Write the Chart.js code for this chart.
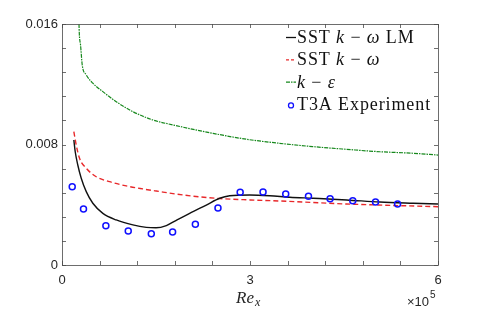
<!DOCTYPE html>
<html>
<head>
<meta charset="utf-8">
<script src="https://cdn.jsdelivr.net/npm/chart.js@4.4.0/dist/chart.umd.min.js"></script>
<style>
  html, body { margin: 0; padding: 0; background: #fff; }
  #wrap { width: 485px; height: 310px; }
</style>
</head>
<body>
<div id="wrap"><canvas id="chart" width="485" height="310"></canvas></div>
<script>
// SST k-omega LM
const lmRe = [18900, 21100, 25200, 30700, 38700, 49200, 65200, 86600, 113100, 134500, 150000, 166500, 182400, 203700, 230300, 251600, 267600, 299500, 331500, 363400, 400600, 454000, 507200, 560400, 600000];
const lmCf = [0.0083, 0.00752, 0.00664, 0.00576, 0.00487, 0.0041, 0.00343, 0.00299, 0.00266, 0.0025, 0.00247, 0.00262, 0.00297, 0.00343, 0.00398, 0.00443, 0.0046, 0.00465, 0.0046, 0.0045, 0.00443, 0.00432, 0.00418, 0.0041, 0.00405];

// SST k-omega
const sstRe = [18900, 22700, 28000, 38700, 54600, 75900, 102500, 129000, 150500, 193000, 246000, 300000, 347000, 454000, 600000];
const sstCf = [0.00885, 0.00797, 0.00708, 0.00642, 0.00586, 0.00553, 0.00525, 0.00505, 0.00491, 0.00465, 0.00443, 0.00432, 0.00425, 0.00405, 0.00387];

// k-epsilon
const keRe = [26800, 27000, 29600, 32300, 38700, 49200, 65200, 86600, 113100, 145000, 177000, 241000, 294000, 347000, 400000, 454000, 507000, 560000, 600000];
const keCf = [0.0170, 0.0162, 0.0146, 0.01328, 0.01262, 0.01207, 0.01151, 0.01084, 0.01018, 0.00963, 0.0093, 0.00874, 0.00835, 0.00808, 0.00786, 0.00768, 0.00752, 0.00742, 0.0073];

// T3A experiment
const expRe = [16300, 34300, 70000, 105700, 142500, 176500, 212800, 248900, 284300, 320800, 357000, 393300, 427800, 464000, 500300, 535500];
const expCf = [0.0052, 0.00372, 0.00261, 0.00226, 0.00208, 0.00219, 0.0027, 0.00378, 0.00483, 0.00485, 0.00471, 0.00456, 0.0044, 0.00427, 0.00418, 0.00405];

// axes
const xMajor = [0, 300000, 600000];
const xTickLabels = ['0', '3', '6'];
const yMajor = [0, 0.008, 0.016];
const yTickLabels = ['0', '0.008', '0.016'];
const xMinorStep = 60000;
const yMinorStep = 0.0016;

// legend texts: [text, italic]
const legendLabels = [
  [['SST ', false], ['k', true], [' − ', false], ['ω', true], [' LM', false]],
  [['SST ', false], ['k', true], [' − ', false], ['ω', true]],
  [['k', true], [' − ', false], ['ε', true]],
  [['T3A Experiment', false]],
];

const toPts = (xs, ys) => xs.map((x, i) => ({ x: x, y: ys[i] }));

const colors = {
  lm: '#111111',
  sst: '#e8282a',
  ke: '#16881c',
  exp: '#1010ff',
};

const serif = '"Liberation Serif", "Times New Roman", serif';
const sans = '"Liberation Sans", Arial, Helvetica, sans-serif';

const decorPlugin = {
  id: 'decor',
  afterDraw(chart) {
    const ctx = chart.ctx;
    const a = chart.chartArea;
    const xs = chart.scales.x, ys = chart.scales.y;
    ctx.save();

    // box + inward ticks
    ctx.strokeStyle = '#4a4a4a';
    ctx.lineWidth = 0.8;
    ctx.strokeRect(a.left + 0.5, a.top + 0.5, a.right - a.left, a.bottom - a.top);
    ctx.beginPath();
    for (let v = xs.min; v <= xs.max + 1; v += xMinorStep) {
      const p = Math.round(xs.getPixelForValue(v)) + 0.5;
      ctx.moveTo(p, a.bottom); ctx.lineTo(p, a.bottom - 4);
      ctx.moveTo(p, a.top); ctx.lineTo(p, a.top + 4);
    }
    for (let v = ys.min; v <= ys.max + 1e-9; v += yMinorStep) {
      const p = Math.round(ys.getPixelForValue(v)) + 0.5;
      ctx.moveTo(a.left, p); ctx.lineTo(a.left + 4, p);
      ctx.moveTo(a.right, p); ctx.lineTo(a.right - 4, p);
    }
    ctx.stroke();

    // x axis title Re_x
    ctx.fillStyle = '#262626';
    ctx.textBaseline = 'alphabetic';
    ctx.textAlign = 'left';
    ctx.font = 'italic 17px ' + serif;
    const cx = (a.left + a.right) / 2;
    ctx.fillText('Re', cx - 14, 303);
    const wRe = ctx.measureText('Re').width;
    ctx.font = 'italic 12px ' + serif;
    ctx.fillText('x', cx - 14 + wRe + 1, 306);

    // exponent
    ctx.font = '13px ' + sans;
    ctx.textAlign = 'right';
    ctx.fillText('×10', a.right - 9, 306);
    ctx.font = '10px ' + sans;
    ctx.textAlign = 'left';
    ctx.fillText('5', a.right - 8, 298);

    // legend
    const lx = 286, ly0 = 43, dy = 22.3;
    legendLabels.forEach((segs, i) => {
      const by = ly0 + i * dy;
      const my = by - 5.5;
      ctx.setLineDash([]);
      if (i === 0) {
        ctx.strokeStyle = colors.lm; ctx.lineWidth = 1.3;
        ctx.beginPath(); ctx.moveTo(lx, my); ctx.lineTo(lx + 10, my); ctx.stroke();
      } else if (i === 1) {
        ctx.strokeStyle = colors.sst; ctx.lineWidth = 1.3; ctx.setLineDash([3, 2]);
        ctx.beginPath(); ctx.moveTo(lx, my); ctx.lineTo(lx + 10, my); ctx.stroke();
      } else if (i === 2) {
        ctx.strokeStyle = colors.ke; ctx.lineWidth = 1.1; ctx.setLineDash([4, 1, 1.5, 1]);
        ctx.beginPath(); ctx.moveTo(lx, my); ctx.lineTo(lx + 10, my); ctx.stroke();
      } else {
        ctx.strokeStyle = colors.exp; ctx.lineWidth = 1.3;
        ctx.beginPath(); ctx.arc(lx + 5, my + 1, 2.5, 0, Math.PI * 2); ctx.stroke();
      }
      ctx.setLineDash([]);
      let tx = lx + 11;
      ctx.fillStyle = '#111';
      ctx.textAlign = 'left';
      ctx.letterSpacing = '0.9px';
      segs.forEach(([t, it]) => {
        ctx.font = (it ? 'italic ' : '') + '18px ' + serif;
        ctx.fillText(t, tx, by);
        tx += ctx.measureText(t).width;
      });
      ctx.letterSpacing = '0px';
    });
    ctx.restore();
  }
};

new Chart(document.getElementById('chart'), {
  type: 'scatter',
  data: {
    datasets: [
      {
        label: 'T3A Experiment',
        data: toPts(expRe, expCf),
        showLine: false,
        pointStyle: 'circle',
        pointRadius: 3,
        pointBorderWidth: 1.5,
        pointBorderColor: colors.exp,
        pointBackgroundColor: 'rgba(0,0,0,0)',
        order: 0,
      },
      {
        label: 'SST k-w LM',
        data: toPts(lmRe, lmCf),
        showLine: true,
        borderColor: colors.lm,
        borderWidth: 1.4,
        pointRadius: 0,
        cubicInterpolationMode: 'monotone',
        order: 1,
      },
      {
        label: 'SST k-w',
        data: toPts(sstRe, sstCf),
        showLine: true,
        borderColor: colors.sst,
        borderWidth: 1.4,
        borderDash: [5, 3],
        pointRadius: 0,
        cubicInterpolationMode: 'monotone',
        order: 2,
      },
      {
        label: 'k-e',
        data: toPts(keRe, keCf),
        showLine: true,
        borderColor: colors.ke,
        borderWidth: 1.2,
        borderDash: [4, 1, 1.5, 1],
        pointRadius: 0,
        cubicInterpolationMode: 'monotone',
        order: 3,
      },
    ],
  },
  options: {
    responsive: false,
    animation: false,
    devicePixelRatio: 1,
    layout: { padding: { left: 0, right: 47, top: 24, bottom: 0 } },
    plugins: {
      legend: { display: false },
      tooltip: { enabled: false },
    },
    scales: {
      x: {
        type: 'linear',
        min: 0,
        max: 600000,
        afterBuildTicks: (s) => { s.ticks = xMajor.map(v => ({ value: v })); },
        afterFit: (s) => { s.height = 45; },
        grid: { display: false, drawTicks: false },
        border: { display: false },
        ticks: {
          padding: 8,
          maxRotation: 0,
          font: { family: sans, size: 13 },
          color: '#262626',
          callback: (v, i) => xTickLabels[i],
        },
      },
      y: {
        type: 'linear',
        min: 0,
        max: 0.016,
        afterBuildTicks: (s) => { s.ticks = yMajor.map(v => ({ value: v })); },
        afterFit: (s) => { s.width = 62; },
        grid: { display: false, drawTicks: false },
        border: { display: false },
        ticks: {
          padding: 4,
          font: { family: sans, size: 13 },
          color: '#262626',
          callback: (v, i) => yTickLabels[i],
        },
      },
    },
  },
  plugins: [decorPlugin],
});
</script>
</body>
</html>
